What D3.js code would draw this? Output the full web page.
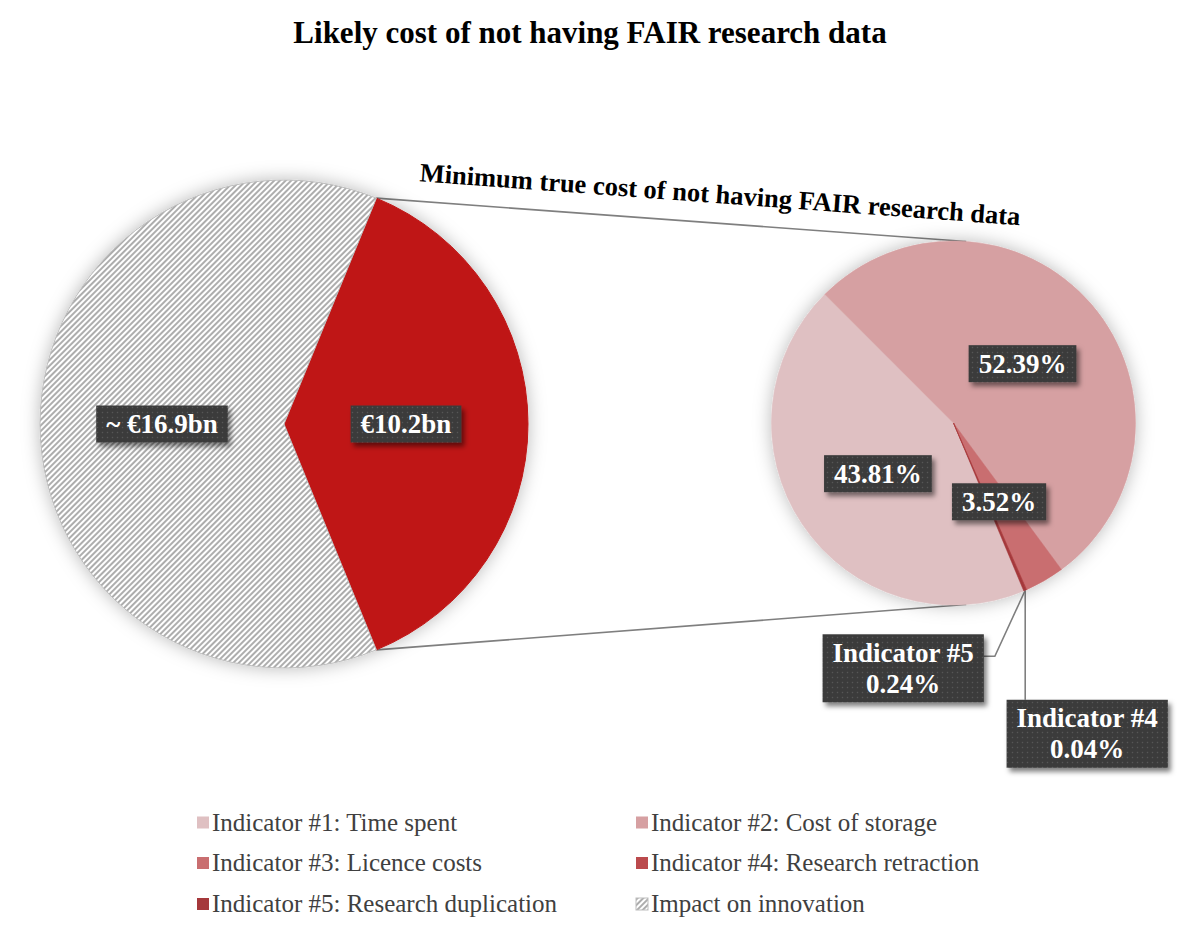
<!DOCTYPE html>
<html>
<head>
<meta charset="utf-8">
<script src="https://cdn.jsdelivr.net/npm/d3@7"></script>
<style>
  body { margin: 0; background: #fff; }
  text { font-family: "Liberation Serif", "DejaVu Serif", serif; }
</style>
</head>
<body>
<svg id="chart" width="1199" height="941"></svg>
<script>
// left pie: minimum cost vs impact on innovation (bn EUR)
const mainNames  = ["Minimum true cost", "Impact on innovation"];
const mainValues = [10.2, 16.9];
const mainLabels = ["€10.2bn", "~ €16.9bn"];

// right pie: breakdown of the minimum cost (%)
const indNames  = ["Indicator #1: Time spent", "Indicator #2: Cost of storage",
                   "Indicator #3: Licence costs", "Indicator #4: Research retraction",
                   "Indicator #5: Research duplication"];
const indValues = [43.81, 52.39, 3.52, 0.04, 0.24];
const indColors = ["#dfc0c2", "#d6a0a2", "#c96e70", "#bb4a4d", "#a5383b"];

const legendNames = indNames.concat(["Impact on innovation"]);

const title    = "Likely cost of not having FAIR research data";
const subtitle = "Minimum true cost of not having FAIR research data";

const svg = d3.select("#chart");
const defs = svg.append("defs");

// hatch for innovation slice
const hatch = defs.append("pattern").attr("id", "hatch")
  .attr("patternUnits", "userSpaceOnUse").attr("width", 4).attr("height", 4)
  .attr("patternTransform", "rotate(45)");
hatch.append("rect").attr("width", 4).attr("height", 4).attr("fill", "#fff");
hatch.append("line").attr("x1", 1).attr("y1", 0).attr("x2", 1).attr("y2", 4)
  .attr("stroke", "#a4a4a4").attr("stroke-width", 1.8);

// dotted dark texture for the label boxes
const dots = defs.append("pattern").attr("id", "dots")
  .attr("patternUnits", "userSpaceOnUse").attr("width", 5).attr("height", 5);
dots.append("rect").attr("width", 5).attr("height", 5).attr("fill", "#3b3b3b");
dots.append("circle").attr("cx", 2.5).attr("cy", 2.5).attr("r", 0.8).attr("fill", "#575757");

const glow = defs.append("filter").attr("id", "glow")
  .attr("x", "-20%").attr("y", "-20%").attr("width", "140%").attr("height", "140%");
glow.append("feDropShadow").attr("dx", 0).attr("dy", 0).attr("stdDeviation", 9)
  .attr("flood-color", "#000").attr("flood-opacity", 0.28);

const boxShadow = defs.append("filter").attr("id", "boxShadow")
  .attr("x", "-20%").attr("y", "-30%").attr("width", "150%").attr("height", "170%");
boxShadow.append("feDropShadow").attr("dx", 3).attr("dy", 4).attr("stdDeviation", 2.5)
  .attr("flood-color", "#000").attr("flood-opacity", 0.5);

const deg = d => d * Math.PI / 180;
const polar = (c, a, r) => [c.cx + (r || c.r) * Math.sin(a), c.cy - (r || c.r) * Math.cos(a)];

const L = {cx: 284, cy: 424, r: 244};
const R = {cx: 953.5, cy: 423, r: 182};

// the split slice is centred on the right hand side of the main pie
const mainSpan = 2 * Math.PI * mainValues[0] / d3.sum(mainValues);
const mainStart = Math.PI / 2 - mainSpan / 2;
const mainPie = d3.pie().sort(null).value(d => d)
  .startAngle(mainStart).endAngle(mainStart + 2 * Math.PI)(mainValues);

const subStart = deg(157.3);
const subPie = d3.pie().sort(null).value(d => d)
  .startAngle(subStart).endAngle(subStart + 2 * Math.PI)(indValues);

const arcL = d3.arc().innerRadius(0).outerRadius(L.r);
const arcR = d3.arc().innerRadius(0).outerRadius(R.r);

// title
svg.append("text").attr("x", 590).attr("y", 43).attr("text-anchor", "middle")
  .attr("font-size", 31).attr("font-weight", "bold").attr("fill", "#000").text(title);

// connector lines
const pTop = polar(L, mainPie[0].startAngle), pBot = polar(L, mainPie[0].endAngle);
const qTop = polar(R, deg(4)), qBot = polar(R, deg(176));
svg.append("g").selectAll("line").data([[pTop, qTop], [pBot, qBot]]).join("line")
  .attr("x1", d => d[0][0]).attr("y1", d => d[0][1])
  .attr("x2", d => d[1][0]).attr("y2", d => d[1][1])
  .attr("stroke", "#7f7f7f").attr("stroke-width", 1.6);

// subtitle along the upper connector
const ang = Math.atan2(qTop[1] - pTop[1], qTop[0] - pTop[0]) * 180 / Math.PI;
const sx = 718, sy = pTop[1] + (sx - pTop[0]) * Math.tan(ang * Math.PI / 180);
svg.append("text").attr("text-anchor", "middle")
  .attr("transform", `translate(${sx},${sy}) rotate(${ang}) translate(0,-20)`)
  .attr("font-size", 26.5).attr("font-weight", "bold").attr("fill", "#000").text(subtitle);

// main pie
const gL = svg.append("g").attr("transform", `translate(${L.cx},${L.cy})`).attr("filter", "url(#glow)");
gL.selectAll("path").data(mainPie).join("path")
  .attr("d", arcL)
  .attr("fill", (d, i) => i === 0 ? "#bf1414" : "url(#hatch)")
  .attr("stroke", (d, i) => i === 0 ? "#bf1414" : "#bdbdbd")
  .attr("stroke-width", 1);

// sub pie
const gR = svg.append("g").attr("transform", `translate(${R.cx},${R.cy})`).attr("filter", "url(#glow)");
gR.selectAll("path").data(subPie).join("path")
  .attr("d", arcR)
  .attr("fill", (d, i) => indColors[i])
  .attr("stroke", (d, i) => indColors[i]).attr("stroke-width", 0.5);

// label boxes
function labelBox(cx, cy, lines) {
  const g = svg.append("g");
  const rect = g.append("rect").attr("fill", "url(#dots)").attr("filter", "url(#boxShadow)");
  const lh = 31;
  const t = g.append("text").attr("text-anchor", "middle").attr("font-size", 27)
    .attr("font-weight", "bold").attr("fill", "#fff");
  lines.forEach((s, k) => {
    t.append("tspan").attr("x", cx).attr("y", cy + 9 - (lines.length - 1) * lh / 2 + k * lh).text(s);
  });
  const w = d3.max(t.selectAll("tspan").nodes(), n => n.getComputedTextLength()) + 20;
  const h = 6 + lh * lines.length;
  rect.attr("x", cx - w / 2).attr("y", cy - h / 2).attr("width", w).attr("height", h);
  return {x: cx - w / 2, y: cy - h / 2, w: w, h: h};
}

mainPie.forEach((d, i) => {
  const c = arcL.centroid(d);
  labelBox(L.cx + c[0], L.cy + c[1], [mainLabels[i]]);
});

const fmt = v => v.toFixed(2) + "%";
[0, 1, 2].forEach(i => {
  const c = arcR.centroid(subPie[i]);
  labelBox(R.cx + c[0], R.cy + c[1], [fmt(indValues[i])]);
});

// small slices: labels outside with leader lines
const tip = polar(R, (subPie[3].startAngle + subPie[4].endAngle) / 2);
const b5 = labelBox(tip[0] - 122, tip[1] + 78, ["Indicator #5", fmt(indValues[4])]);
const b4 = labelBox(tip[0] + 62, tip[1] + 143.5, ["Indicator #4", fmt(indValues[3])]);
const leaders = svg.insert("g", "g");
leaders.append("polyline")
  .attr("points", [tip, [b5.x + b5.w + 11, b5.y + b5.h / 2 - 12], [b5.x + b5.w, b5.y + b5.h / 2 - 12]].map(p => p.join(",")).join(" "))
  .attr("fill", "none").attr("stroke", "#7f7f7f").attr("stroke-width", 1.6);
leaders.append("line")
  .attr("x1", tip[0]).attr("y1", tip[1]).attr("x2", tip[0]).attr("y2", b4.y)
  .attr("stroke", "#7f7f7f").attr("stroke-width", 1.6);

// legend
const legColX = [197, 636], legRowY = [822.5, 863, 904];
const leg = svg.append("g").selectAll("g").data(legendNames).join("g")
  .attr("transform", (d, i) => `translate(${legColX[i % 2]},${legRowY[Math.floor(i / 2)]})`);
leg.append("rect").attr("x", 0).attr("y", -6).attr("width", 12).attr("height", 12)
  .attr("fill", (d, i) => i < indColors.length ? indColors[i] : "url(#hatch)")
  .attr("stroke", (d, i) => i < indColors.length ? "none" : "#bdbdbd");
leg.append("text").attr("x", 15).attr("y", 8).attr("font-size", 25).attr("fill", "#404040")
  .text(d => d);
</script>
</body>
</html>
